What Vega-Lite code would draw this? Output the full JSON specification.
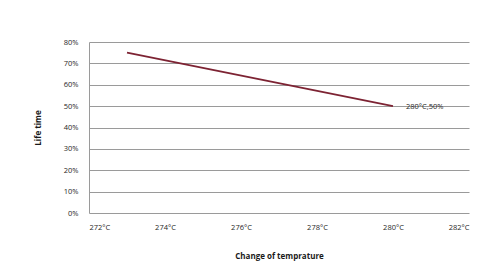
{
  "$schema": "https://vega.github.io/schema/vega-lite/v6.json",
  "width": 380,
  "height": 171,
  "autosize": {"type": "none"},
  "padding": {"left": 89, "top": 42, "right": 28, "bottom": 62},
  "background": "white",
  "config": {
    "view": {"stroke": null},
    "font": "Open Sans",
    "axis": {
      "labelFont": "Open Sans",
      "titleFont": "Open Sans",
      "labelFontSize": 7.5,
      "labelColor": "#262626",
      "titleColor": "#1a1a1a",
      "titleFontSize": 8,
      "titleFontWeight": "bold",
      "gridColor": "#9a9a9a",
      "gridWidth": 1.2,
      "domainColor": "#9a9a9a",
      "ticks": false,
      "labelOverlap": false
    }
  },
  "data": {
    "values": [
      {"temp": 273, "life": 75, "label": ""},
      {"temp": 280, "life": 50, "label": "280°C,50%"}
    ]
  },
  "encoding": {
    "x": {
      "field": "temp",
      "type": "quantitative",
      "scale": {"domain": [272, 282], "nice": false, "zero": false},
      "axis": {
        "values": [272, 274, 276, 278, 280, 282],
        "labelExpr": "datum.value + '°C'",
        "grid": false,
        "domain": false,
        "labelPadding": 10,
        "title": "Change of temprature",
        "titlePadding": 22
      }
    },
    "y": {
      "field": "life",
      "type": "quantitative",
      "scale": {"domain": [0, 80], "nice": false},
      "axis": {
        "values": [0, 10, 20, 30, 40, 50, 60, 70, 80],
        "labelExpr": "datum.value + '%'",
        "grid": true,
        "domain": true,
        "labelPadding": 11,
        "title": "Life time",
        "titlePadding": 21
      }
    }
  },
  "layer": [
    {
      "mark": {"type": "line", "color": "#7d2333", "strokeWidth": 1.8}
    },
    {
      "transform": [{"filter": "datum.label != ''"}],
      "mark": {"type": "text", "align": "left", "dx": 13, "dy": 1, "fontSize": 7.5, "color": "#262626", "font": "Open Sans"},
      "encoding": {
        "text": {"field": "label"}
      }
    }
  ]
}
